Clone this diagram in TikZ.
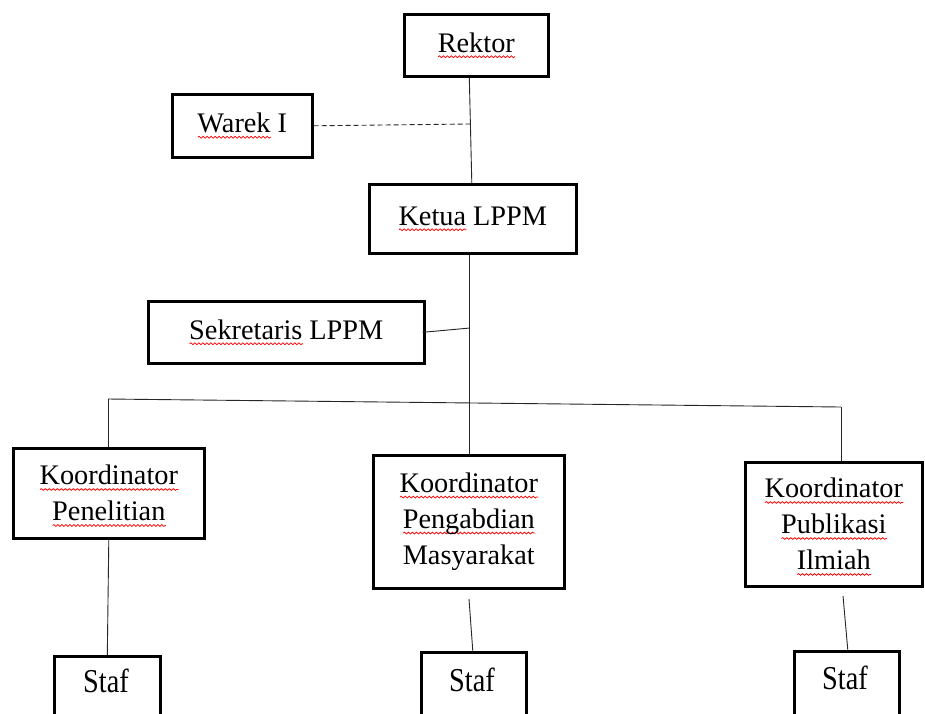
\documentclass[tikz,border=0pt]{standalone}
\usepackage{fontspec}
\setmainfont{Liberation Serif}
\usepackage{graphicx}
\usetikzlibrary{decorations.pathmorphing}
\newsavebox\sqbox
\tikzset{wavy/.style={draw=red, line width=0.75pt, decorate, decoration={snake, amplitude=0.9pt, segment length=4pt}}}
% wavy underline (counts in depth)
\newcommand\sq[1]{\sbox\sqbox{#1}\rlap{\tikz[baseline=0pt]{\path (0pt,0pt);\draw[wavy] (0pt,-4.5pt) -- (\wd\sqbox,-4.5pt);}}\usebox\sqbox}
% wavy underline (no depth)
\newcommand\sqs[1]{\sbox\sqbox{#1}\rlap{\smash{\tikz[baseline=0pt]{\path (0pt,0pt);\draw[wavy] (0pt,-4.5pt) -- (\wd\sqbox,-4.5pt);}}}\usebox\sqbox}
\newcommand\stretchy[1]{\scalebox{1}[1.18]{#1}}
\tikzset{
  box/.style={draw, line width=2.6pt, inner sep=0pt, align=center,
    font=\fontsize{28.3}{36}\selectfont, anchor=north west},
  conn/.style={line width=0.9pt, draw=black!85},
  txt/.style={inner sep=0pt, font=\fontsize{28.3}{36}\selectfont}
}
\begin{document}
\begin{tikzpicture}[x=1pt,y=-1pt]
\useasboundingbox (0,0) rectangle (925,713);
\clip (0,0) rectangle (925,713);
\fill[white] (0,0) rectangle (925,713);

% boxes
\node[box, minimum width=144, minimum height=62] (rektor) at (403,13) {\sq{Rektor}};
\node[box, minimum width=140, minimum height=63] (warek) at (171,93) {\sq{Warek} I};
\node[box, minimum width=207, minimum height=69] (ketua) at (368,183) {\sq{Ketua} LPPM};
\node[box, minimum width=276, minimum height=62] (sekretaris) at (147,300) {\sq{Sekretaris} LPPM};
\node[box, minimum width=191, minimum height=90] (koord1) at (12,447) {\sq{Koordinator}\\\sqs{Penelitian}};
\node[box, minimum width=191, minimum height=133] (koord2) at (372,454) {\sq{Koordinator}\\\sq{Pengabdian}\\Masyarakat};
\node[box, minimum width=177, minimum height=124] (koord3) at (744,461) {\sq{Koordinator}\\\sq{Publikasi}\\\sqs{Ilmiah}};
\node[box, minimum width=106, minimum height=100] (staf1) at (53,655) {};
\node[box, minimum width=105, minimum height=100] (staf2) at (420,651) {};
\node[box, minimum width=105, minimum height=100] (staf3) at (793,650) {};
\node[txt] (staf1t) at (106,681) {\stretchy{Staf}};
\node[txt] (staf2t) at (472,680) {\stretchy{Staf}};
\node[txt] (staf3t) at (845,678) {\stretchy{Staf}};

% junctions
\coordinate (j1) at (470,124);
\coordinate (j2) at (470,328);
\coordinate (busL) at (108,399);
\coordinate (busR) at (841,407);
\coordinate (busC) at (469,403);
\coordinate (k2s) at (469,599);
\coordinate (k3s) at (843,596);

% connectors
\draw[conn] ([xshift=-7]rektor.south) -- ([xshift=-1]ketua.north);
\draw[conn, dash pattern=on 5pt off 3pt] (warek.east) -- (j1);
\draw[conn] (ketua.south -| busC) -- (koord2.north -| busC);
\draw[conn] ([xshift=-3]sekretaris.east) -- (j2);
\draw[conn] (busL) -- (busR);
\draw[conn] (busL) -- (koord1.north -| busL);
\draw[conn] (busR) -- (koord3.north -| busR);
\draw[conn] (koord1.south) -- (staf1.north);
\draw[conn] (k2s) -- ([xshift=-1]staf2.north);
\draw[conn] (k3s) -- ([xshift=1]staf3.north);
\end{tikzpicture}
\end{document}
